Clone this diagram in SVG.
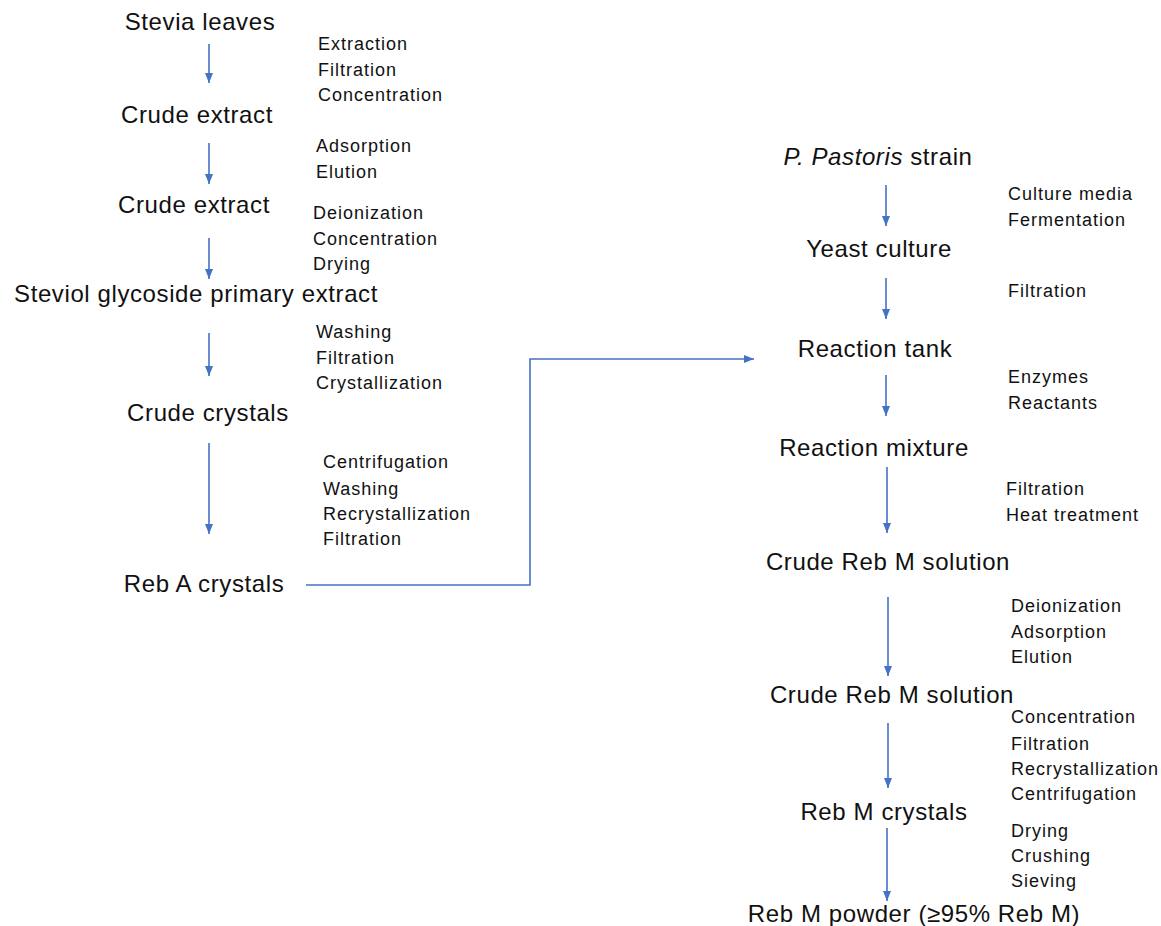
<svg xmlns="http://www.w3.org/2000/svg" width="1161" height="926" viewBox="0 0 1161 926">
<defs>
<style>
.main{font-family:"Liberation Sans",Arial,sans-serif;font-size:24px;fill:#111;text-anchor:middle;letter-spacing:0.6px}
.side{font-family:"Liberation Sans",Arial,sans-serif;font-size:18px;fill:#111;letter-spacing:1px}
.conn{stroke:#4472C4;stroke-width:1.6;fill:none}
</style>
<marker id="ah" markerUnits="userSpaceOnUse" markerWidth="10" markerHeight="10" viewBox="0 0 10 10" refX="10" refY="5" orient="auto">
<path d="M0,1 L10,5 L0,9 Z" fill="#4472C4"/>
</marker>
</defs>
<rect width="1161" height="926" fill="#fff"/>
<g id="connectors">
<line class="conn" x1="209" y1="44" x2="209" y2="83" marker-end="url(#ah)"/>
<line class="conn" x1="209" y1="143" x2="209" y2="184" marker-end="url(#ah)"/>
<line class="conn" x1="209" y1="238" x2="209" y2="279" marker-end="url(#ah)"/>
<line class="conn" x1="209" y1="333" x2="209" y2="376" marker-end="url(#ah)"/>
<line class="conn" x1="209" y1="443" x2="209" y2="534" marker-end="url(#ah)"/>
<polyline class="conn" points="306,585 530,585 530,359 754,359" marker-end="url(#ah)"/>
<line class="conn" x1="886" y1="185" x2="886" y2="226" marker-end="url(#ah)"/>
<line class="conn" x1="886" y1="278" x2="886" y2="319" marker-end="url(#ah)"/>
<line class="conn" x1="886" y1="375" x2="886" y2="416" marker-end="url(#ah)"/>
<line class="conn" x1="887" y1="467" x2="887" y2="533" marker-end="url(#ah)"/>
<line class="conn" x1="888" y1="597" x2="888" y2="676" marker-end="url(#ah)"/>
<line class="conn" x1="888" y1="723" x2="888" y2="788" marker-end="url(#ah)"/>
<line class="conn" x1="887" y1="828" x2="887" y2="901" marker-end="url(#ah)"/>
</g>
<g id="n-stevia"><text class="main" x="200" y="30">Stevia leaves</text></g>
<g id="s-1"><text class="side" x="318" y="50">Extraction</text><text class="side" x="318" y="76">Filtration</text><text class="side" x="318" y="101">Concentration</text></g>
<g id="n-crude1"><text class="main" x="197" y="123">Crude extract</text></g>
<g id="s-2"><text class="side" x="316" y="152">Adsorption</text><text class="side" x="316" y="178">Elution</text></g>
<g id="n-crude2"><text class="main" x="194" y="213">Crude extract</text></g>
<g id="s-3"><text class="side" x="313" y="219">Deionization</text><text class="side" x="313" y="245">Concentration</text><text class="side" x="313" y="270">Drying</text></g>
<g id="n-steviol"><text class="main" x="196" y="302">Steviol glycoside primary extract</text></g>
<g id="s-4"><text class="side" x="316" y="338">Washing</text><text class="side" x="316" y="364">Filtration</text><text class="side" x="316" y="389">Crystallization</text></g>
<g id="n-crudecrystals"><text class="main" x="208" y="421">Crude crystals</text></g>
<g id="s-5"><text class="side" x="323" y="468">Centrifugation</text><text class="side" x="323" y="495">Washing</text><text class="side" x="323" y="520">Recrystallization</text><text class="side" x="323" y="545">Filtration</text></g>
<g id="n-rebA"><text class="main" x="204" y="592">Reb A crystals</text></g>
<g id="n-pastoris"><text class="main" x="878" y="165"><tspan font-style="italic">P. Pastoris</tspan> strain</text></g>
<g id="s-6"><text class="side" x="1008" y="200">Culture media</text><text class="side" x="1008" y="226">Fermentation</text></g>
<g id="n-yeast"><text class="main" x="879" y="257">Yeast culture</text></g>
<g id="s-7"><text class="side" x="1008" y="297">Filtration</text></g>
<g id="n-tank"><text class="main" x="875" y="357">Reaction tank</text></g>
<g id="s-8"><text class="side" x="1008" y="383">Enzymes</text><text class="side" x="1008" y="409">Reactants</text></g>
<g id="n-mixture"><text class="main" x="874" y="456">Reaction mixture</text></g>
<g id="s-9"><text class="side" x="1006" y="495">Filtration</text><text class="side" x="1006" y="521">Heat treatment</text></g>
<g id="n-crudeM1"><text class="main" x="888" y="570">Crude Reb M solution</text></g>
<g id="s-10"><text class="side" x="1011" y="612">Deionization</text><text class="side" x="1011" y="638">Adsorption</text><text class="side" x="1011" y="663">Elution</text></g>
<g id="n-crudeM2"><text class="main" x="892" y="703">Crude Reb M solution</text></g>
<g id="s-11"><text class="side" x="1011" y="723">Concentration</text><text class="side" x="1011" y="750">Filtration</text><text class="side" x="1011" y="775">Recrystallization</text><text class="side" x="1011" y="800">Centrifugation</text></g>
<g id="n-rebMcrystals"><text class="main" x="884" y="820">Reb M crystals</text></g>
<g id="s-12"><text class="side" x="1011" y="837">Drying</text><text class="side" x="1011" y="862">Crushing</text><text class="side" x="1011" y="887">Sieving</text></g>
<g id="n-powder"><text class="main" x="914" y="922">Reb M powder (≥95% Reb M)</text></g>
</svg>
